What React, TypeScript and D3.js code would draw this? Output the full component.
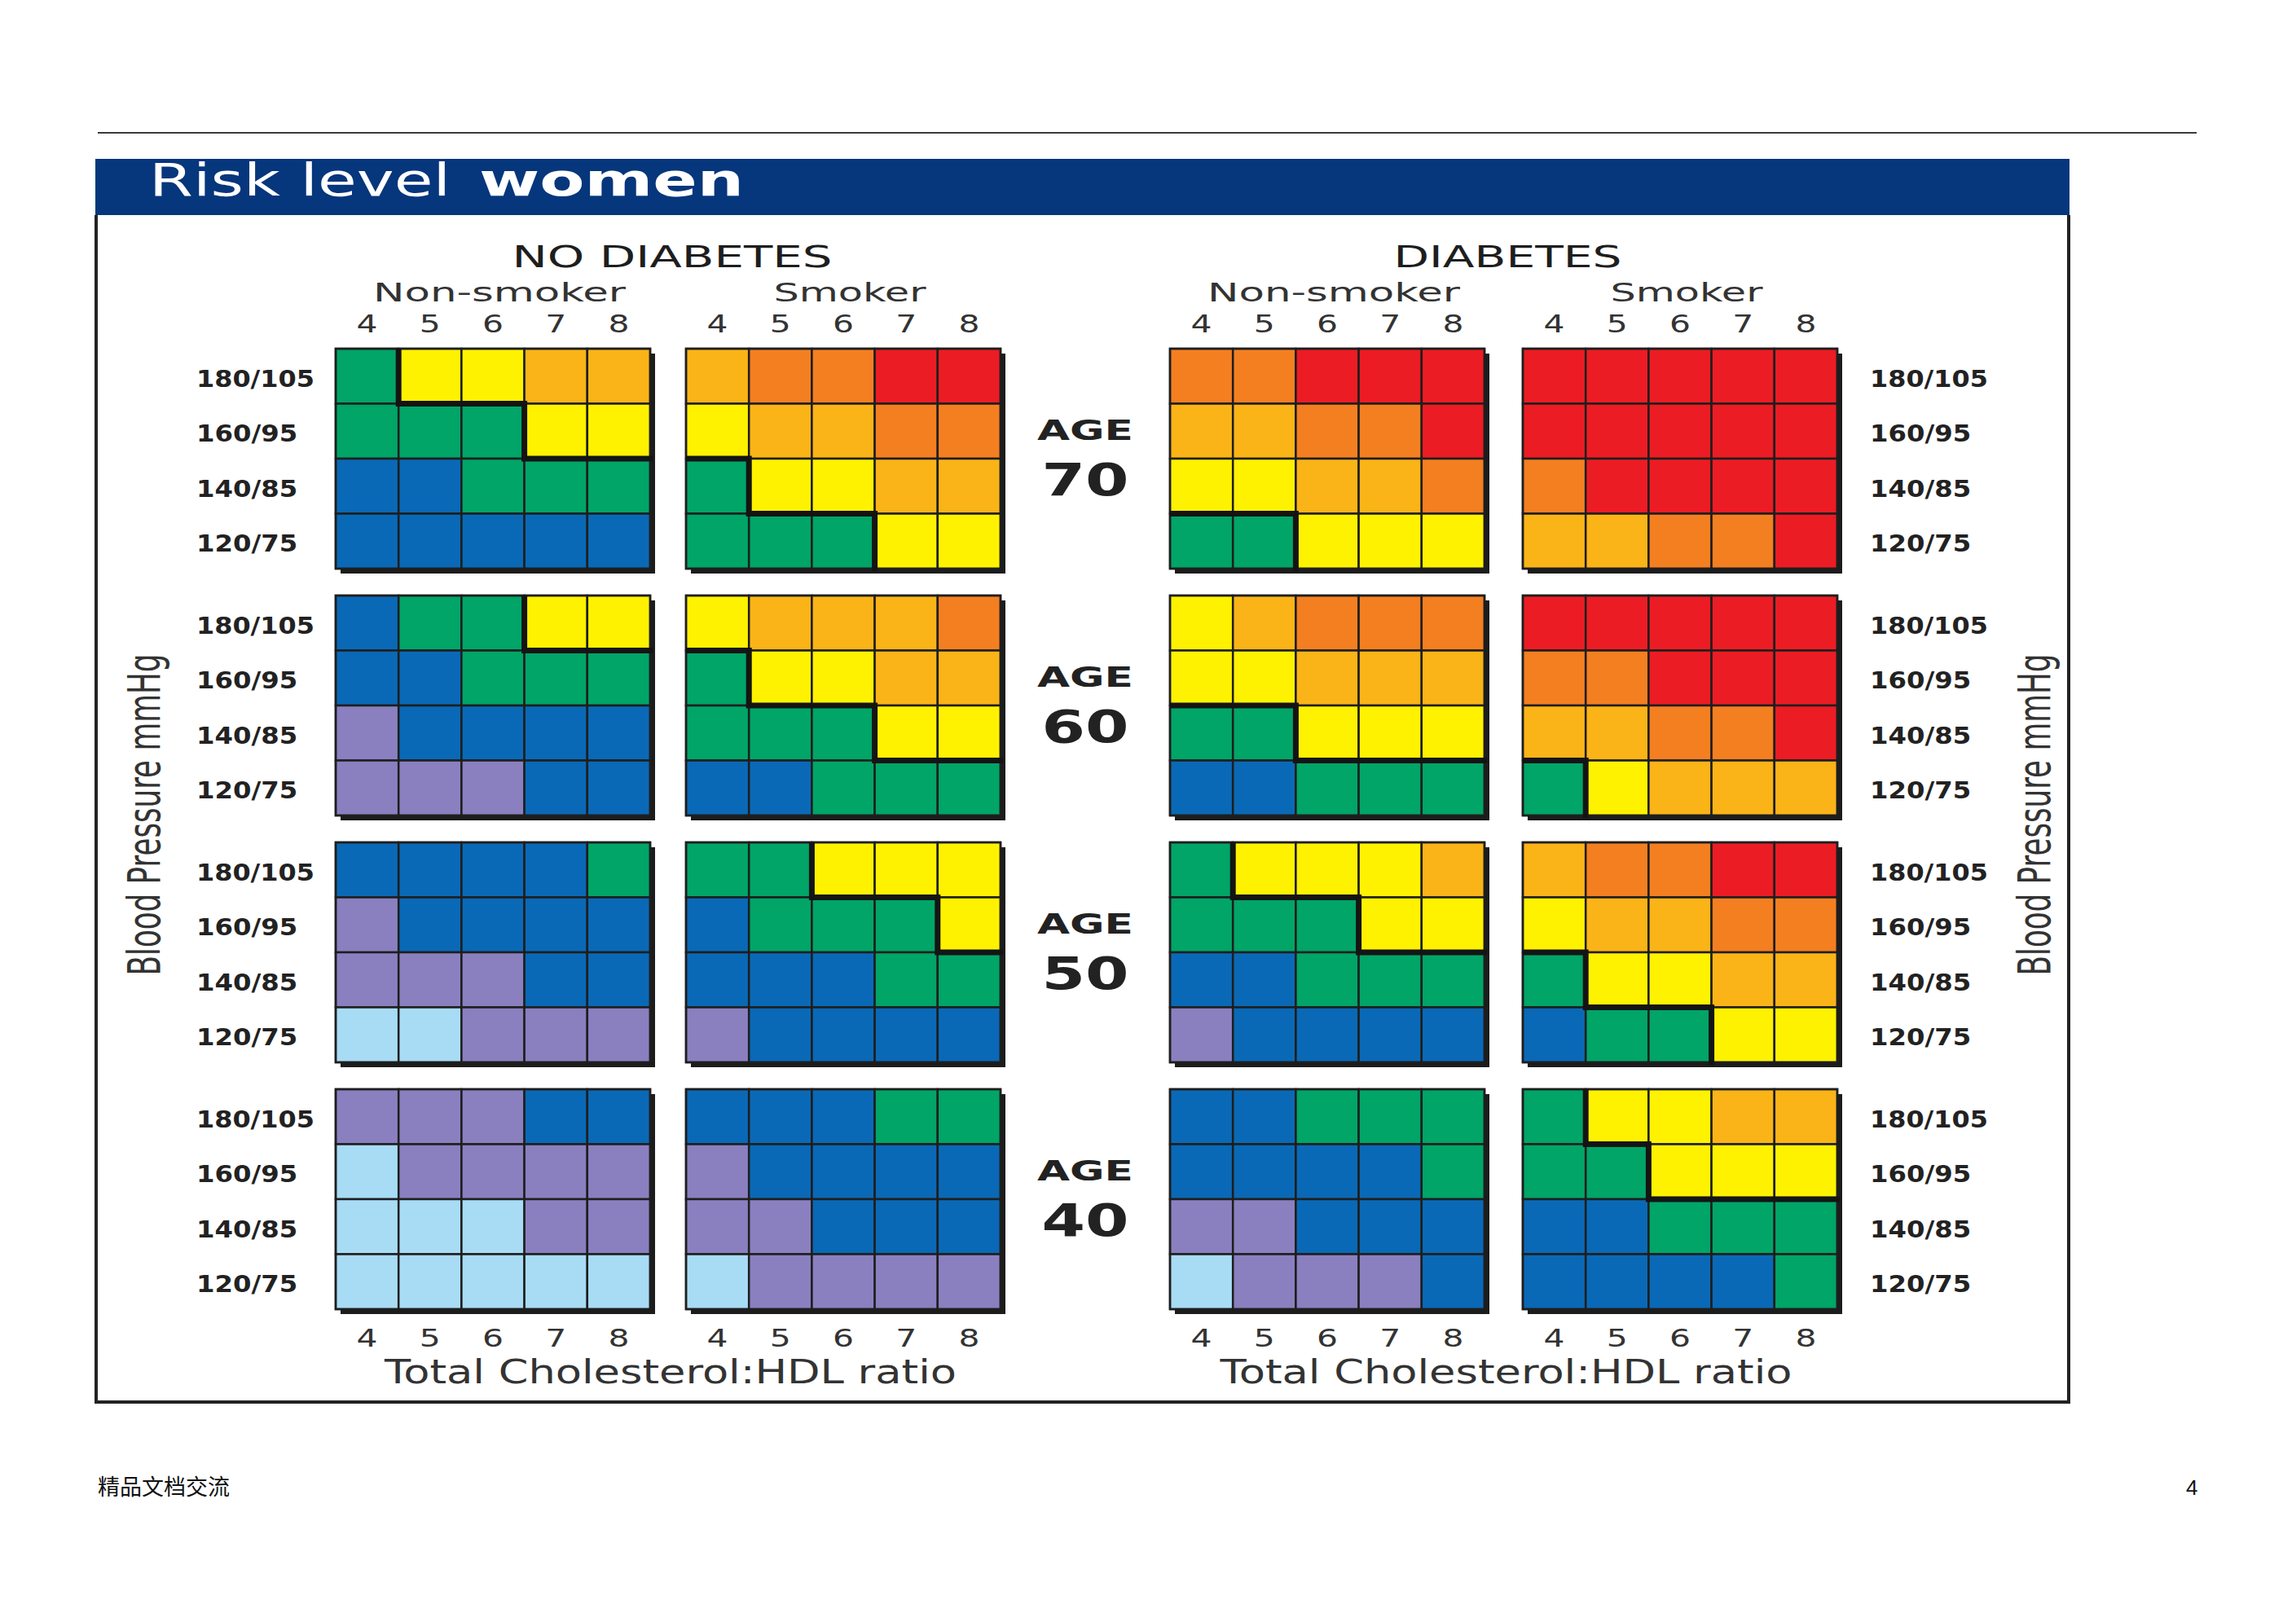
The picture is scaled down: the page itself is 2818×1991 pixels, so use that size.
import React from "react";
import * as d3 from "d3";

// ---------- data ----------
const ratios = ["4", "5", "6", "7", "8"];
const bpLabels = ["180/105", "160/95", "140/85", "120/75"];
const ages = ["70", "60", "50", "40"];
const diabetesHeaders = ["NO DIABETES", "DIABETES"];
const smokerHeaders = ["Non-smoker", "Smoker", "Non-smoker", "Smoker"];
const xAxisTitle = "Total Cholesterol:HDL ratio";
const yAxisTitle = "Blood Pressure mmHg";

// risk level codes, lowest to highest
const levelCodes = ["L", "P", "B", "G", "Y", "A", "O", "R"];
const levelColors = ["#a8dcf5", "#8a80c0", "#0a69b6", "#00a567", "#fff200", "#fbb417", "#f47f21", "#ec1c24"];
const highFrom = 4; // yellow and above sit beyond the heavy line

// each panel: rows 180/105 .. 120/75, columns ratio 4..8
// panel order: no diabetes non-smoker, no diabetes smoker, diabetes non-smoker, diabetes smoker
const age70 = [
  ["GYYAA", "GGGYY", "BBGGG", "BBBBB"],
  ["AOORR", "YAAOO", "GYYAA", "GGGYY"],
  ["OORRR", "AAOOR", "YYAAO", "GGYYY"],
  ["RRRRR", "RRRRR", "ORRRR", "AAOOR"],
];
const age60 = [
  ["BGGYY", "BBGGG", "PBBBB", "PPPBB"],
  ["YAAAO", "GYYAA", "GGGYY", "BBGGG"],
  ["YAOOO", "YYAAA", "GGYYY", "BBGGG"],
  ["RRRRR", "OORRR", "AAOOR", "GYAAA"],
];
const age50 = [
  ["BBBBG", "PBBBB", "PPPBB", "LLPPP"],
  ["GGYYY", "BGGGY", "BBBGG", "PBBBB"],
  ["GYYYA", "GGGYY", "BBGGG", "PBBBB"],
  ["AOORR", "YAAOO", "GYYAA", "BGGYY"],
];
const age40 = [
  ["PPPBB", "LPPPP", "LLLPP", "LLLLL"],
  ["BBBGG", "PBBBB", "PPBBB", "LPPPP"],
  ["BBGGG", "BBBBG", "PPBBB", "LPPPB"],
  ["GYYAA", "GGYYY", "BBGGG", "BBBBG"],
];
const riskByAge = [age70, age60, age50, age40];

// ---------- layout ----------
const W = 2818;
const H = 1991;
const PW = 386;
const PH = 270;
const panelLeft = [412, 842, 1436, 1869];
const panelTop = d3.scaleLinear().domain([0, 1]).range([428, 731]);
const color = d3.scaleOrdinal<string, string>().domain(levelCodes).range(levelColors);
const FONT = "'DejaVu Sans', sans-serif";

function Txt(props: any) {
  const { x, y, w, size, weight, anchor, fill, family, children, transform } = props;
  return (
    <text
      x={x}
      y={y}
      transform={transform}
      textLength={w}
      lengthAdjust="spacingAndGlyphs"
      fontSize={size}
      fontWeight={weight || "normal"}
      textAnchor={anchor || "start"}
      fill={fill || "#222"}
      fontFamily={family || FONT}
    >
      {children}
    </text>
  );
}

function Panel({ left, top, rows }: { left: number; top: number; rows: string[] }) {
  const x = d3.scaleBand<string>().domain(ratios).range([0, PW]);
  const y = d3.scaleBand<string>().domain(bpLabels).range([0, PH]);
  const high = (r: number, c: number) => levelCodes.indexOf(rows[r][c]) >= highFrom;
  const cells = rows.flatMap((row, r) => row.split("").map((code, c) => ({ r, c, code })));
  const p = d3.path();
  for (let r = 0; r < rows.length; r++) {
    for (let c = 0; c < ratios.length; c++) {
      if (c < ratios.length - 1 && high(r, c) !== high(r, c + 1)) {
        const xx = x(ratios[c + 1])!;
        p.moveTo(xx, y(bpLabels[r])!);
        p.lineTo(xx, y(bpLabels[r])! + y.bandwidth());
      }
      if (r < rows.length - 1 && high(r, c) !== high(r + 1, c)) {
        const yy = y(bpLabels[r + 1])!;
        p.moveTo(x(ratios[c])!, yy);
        p.lineTo(x(ratios[c])! + x.bandwidth(), yy);
      }
    }
  }
  return (
    <g transform={`translate(${left},${top})`}>
      <rect x={6} y={6} width={PW} height={PH} fill="#1c1c1c" />
      {cells.map((d) => (
        <rect
          key={`${d.r}-${d.c}`}
          x={x(ratios[d.c])}
          y={y(bpLabels[d.r])}
          width={x.bandwidth()}
          height={y.bandwidth()}
          fill={color(d.code)}
          stroke="#1e1e1e"
          strokeWidth={2.5}
        />
      ))}
      <rect x={0} y={0} width={PW} height={PH} fill="none" stroke="#1e1e1e" strokeWidth={2.5} />
      <path d={p.toString()} fill="none" stroke="#141414" strokeWidth={7} strokeLinecap="square" clipPath="url(#panelClip)" />
    </g>
  );
}

export default function App() {
  const xb = d3.scaleBand<string>().domain(ratios).range([0, PW]);
  const yb = d3.scaleBand<string>().domain(bpLabels).range([0, PH]);
  const firstTop = panelTop(0);
  const lastBottom = panelTop(ages.length - 1) + PH;
  const ageX = (panelLeft[1] + PW + panelLeft[2]) / 2;
  const pairCenter = [(panelLeft[0] + panelLeft[1] + PW) / 2, (panelLeft[2] + panelLeft[3] + PW) / 2];

  return (
    <svg
      width={W}
      height={H}
      viewBox={`0 0 ${W} ${H}`}
      style={{ position: "absolute", left: 0, top: 0, background: "#fff" }}
    >
      <defs>
        <clipPath id="panelClip">
          <rect x={0} y={0} width={PW + 8} height={PH + 8} />
        </clipPath>
      </defs>
      <rect x={0} y={0} width={W} height={H} fill="#fff" />

      {/* top rule */}
      <line x1={120} x2={2696} y1={163} y2={163} stroke="#3a3a3a" strokeWidth={2} />

      {/* banner + frame */}
      <rect x={117} y={195} width={2423} height={69} fill="#06367c" />
      <path d="M118,264 V1721 H2539 V264" fill="none" stroke="#222" strokeWidth={4} />
      <Txt x={183} y={240} w={370} size={55} fill="#fff">Risk level</Txt>
      <Txt x={588} y={240} w={325} size={55} weight="bold" fill="#fff">women</Txt>

      {/* headers */}
      {diabetesHeaders.map((t, i) => (
        <Txt key={t} x={pairCenter[i] + 5} y={328} w={i === 0 ? 393 : 280} size={37} weight={500} anchor="middle" fill="#1e1e1e">
          {t}
        </Txt>
      ))}
      {smokerHeaders.map((t, i) => (
        <Txt key={i} x={panelLeft[i] + PW / 2 + 8} y={370} w={t === "Smoker" ? 187 : 310} size={32} anchor="middle" fill="#333">
          {t}
        </Txt>
      ))}

      {/* ratio ticks */}
      {panelLeft.map((pl, i) =>
        ratios.map((r) => (
          <React.Fragment key={`${i}-${r}`}>
            <Txt x={pl + xb(r)! + xb.bandwidth() / 2} y={firstTop - 20} w={26} size={30} anchor="middle" fill="#333">
              {r}
            </Txt>
            <Txt x={pl + xb(r)! + xb.bandwidth() / 2} y={lastBottom + 46} w={26} size={30} anchor="middle" fill="#333">
              {r}
            </Txt>
          </React.Fragment>
        ))
      )}

      {/* x axis titles */}
      {pairCenter.map((cx, i) => (
        <Txt key={i} x={cx + 3} y={1698} w={702} size={41} anchor="middle" fill="#333">
          {xAxisTitle}
        </Txt>
      ))}

      {/* y axis titles */}
      {[196, 2516].map((bx, i) => (
        <text
          key={i}
          transform={`translate(${bx},1000) scale(1.45,1) rotate(-90)`}
          textLength={395}
          lengthAdjust="spacingAndGlyphs"
          fontSize={38}
          textAnchor="middle"
          fill="#333"
          fontFamily={FONT}
        >
          {yAxisTitle}
        </text>
      ))}

      {/* panels, BP labels and ages */}
      {ages.map((age, ai) => {
        const top = panelTop(ai);
        return (
          <g key={age}>
            {riskByAge[ai].map((rows, pi) => (
              <Panel key={pi} left={panelLeft[pi]} top={top} rows={rows} />
            ))}
            {bpLabels.map((b) => (
              <React.Fragment key={b}>
                <Txt x={241} y={top + yb(b)! + yb.bandwidth() / 2 + 13} w={b.length * 20.7} size={28} weight="bold" fill="#222">
                  {b}
                </Txt>
                <Txt x={2295} y={top + yb(b)! + yb.bandwidth() / 2 + 13} w={b.length * 20.7} size={28} weight="bold" fill="#222">
                  {b}
                </Txt>
              </React.Fragment>
            ))}
            <Txt x={ageX} y={top + 112} w={118} size={34} weight="bold" anchor="middle" fill="#222">
              AGE
            </Txt>
            <Txt x={ageX} y={top + 180} w={107} size={56} weight="bold" anchor="middle" fill="#222">
              {age}
            </Txt>
          </g>
        );
      })}

      {/* page footer */}
      <text x={120} y={1835} fontSize={27} fontFamily="'Noto Sans CJK SC', sans-serif" fill="#111">
        精品文档交流
      </text>
      <text x={2683} y={1835} fontSize={26} fontFamily="'Liberation Sans', Arial, sans-serif" fill="#111">
        4
      </text>
    </svg>
  );
}
